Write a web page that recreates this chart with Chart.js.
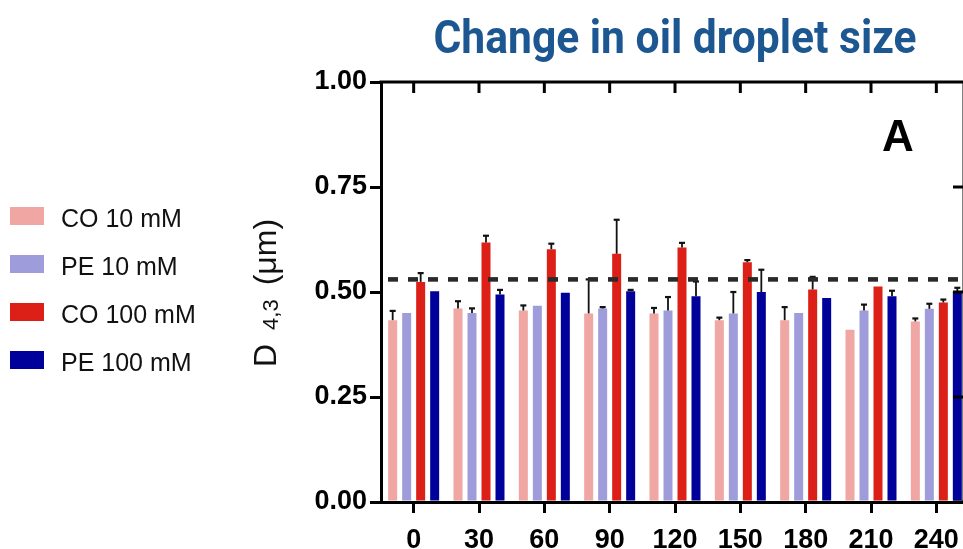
<!DOCTYPE html>
<html>
<head>
<meta charset="utf-8">
<script src="https://cdn.jsdelivr.net/npm/chart.js@4.4.1/dist/chart.umd.min.js"></script>
<style>
  html, body { margin: 0; padding: 0; background: #fff; width: 963px; height: 549px; overflow: hidden; }
  #wrap { position: relative; width: 1000px; height: 549px; }
</style>
</head>
<body>
<div id="wrap"><canvas id="chart" width="1000" height="549"></canvas></div>
<script>
// Sampling times (min)
const times = ['0', '30', '60', '90', '120', '150', '180', '210', '240'];
const yTickLabels = ['0.00', '0.25', '0.50', '0.75', '1.00'];

// Mean D4,3 (µm)
const co10 = [0.433, 0.461, 0.456, 0.449, 0.449, 0.433, 0.433, 0.410, 0.430];
const pe10 = [0.450, 0.450, 0.467, 0.461, 0.456, 0.449, 0.450, 0.456, 0.460];
const co100 = [0.524, 0.618, 0.602, 0.591, 0.606, 0.571, 0.506, 0.513, 0.475];
const pe100 = [0.502, 0.494, 0.498, 0.502, 0.490, 0.500, 0.486, 0.490, 0.502];

// Upper error (SD)
const co10Err = [0.022, 0.017, 0.012, 0.081, 0.013, 0.006, 0.031, 0.000, 0.007];
const pe10Err = [0.000, 0.011, 0.000, 0.003, 0.032, 0.051, 0.000, 0.014, 0.012];
const co100Err = [0.021, 0.016, 0.013, 0.081, 0.011, 0.005, 0.030, 0.000, 0.007];
const pe100Err = [0.000, 0.011, 0.000, 0.003, 0.035, 0.053, 0.000, 0.013, 0.008];

// Initial droplet size reference
const initialSize = 0.53;

const seriesNames = ['CO 10 mM', 'PE 10 mM', 'CO 100 mM', 'PE 100 mM'];
const seriesColors = ['#f0a6a2', '#9e9cdb', '#dc1f17', '#00009b'];
const seriesValues = [co10, pe10, co100, pe100];
const seriesErrors = [co10Err, pe10Err, co100Err, pe100Err];

const AXIS_FONT = 'Liberation Sans, Arial, sans-serif';

const decor = {
  id: 'decor',
  afterDatasetsDraw(chart) {
    const ctx = chart.ctx;
    const y = chart.scales.y;
    const area = chart.chartArea;
    // error bars (upper half with cap)
    ctx.save();
    ctx.strokeStyle = '#111';
    chart.data.datasets.forEach((ds, i) => {
      const meta = chart.getDatasetMeta(i);
      meta.data.forEach((bar, j) => {
        const e = ds.errors[j];
        if (!e) return;
        const top = y.getPixelForValue(ds.data[j] + e);
        ctx.lineWidth = 1.8;
        ctx.beginPath();
        ctx.moveTo(bar.x, bar.y);
        ctx.lineTo(bar.x, top);
        ctx.stroke();
        ctx.lineWidth = 2.2;
        ctx.beginPath();
        ctx.moveTo(bar.x - 3, top);
        ctx.lineTo(bar.x + 3, top);
        ctx.stroke();
      });
    });
    // dashed reference line
    const ry = y.getPixelForValue(initialSize);
    ctx.strokeStyle = '#2a2a2a';
    ctx.lineWidth = 4.6;
    ctx.setLineDash([10, 10]);
    ctx.beginPath();
    ctx.moveTo(area.left + 7, ry);
    ctx.lineTo(chart.width, ry);
    ctx.stroke();
    ctx.restore();
  },
  afterDraw(chart) {
    const ctx = chart.ctx;
    const area = chart.chartArea;
    const xs = chart.scales.x;
    const ys = chart.scales.y;
    const frameRight = 964;
    ctx.save();
    // top and right frame with inward ticks
    ctx.strokeStyle = '#000';
    ctx.lineWidth = 3;
    ctx.beginPath();
    ctx.moveTo(area.left - 1.5, area.top);
    ctx.lineTo(chart.width, area.top);
    ctx.moveTo(frameRight, area.top);
    ctx.lineTo(frameRight, area.bottom);
    xs.ticks.forEach((t, i) => {
      const px = xs.getPixelForTick(i);
      ctx.moveTo(px, area.top);
      ctx.lineTo(px, area.top + 11);
    });
    ys.ticks.forEach((t, i) => {
      const py = ys.getPixelForTick(i);
      ctx.moveTo(frameRight, py);
      ctx.lineTo(frameRight - 11, py);
    });
    ctx.stroke();

    // chart title
    const title = 'Change in oil droplet size';
    ctx.font = 'bold 46px Roboto, sans-serif';
    ctx.fillStyle = '#1d5791';
    ctx.textBaseline = 'alphabetic';
    ctx.textAlign = 'center';
    const tw = ctx.measureText(title).width;
    const sx = 483 / tw;
    ctx.save();
    ctx.translate((area.left + area.right) / 2, 53);
    ctx.scale(sx, 1);
    ctx.fillText(title, 0, 0);
    ctx.restore();

    // panel letter
    ctx.font = 'bold 44px ' + AXIS_FONT;
    ctx.fillStyle = '#000';
    ctx.textAlign = 'center';
    ctx.fillText('A', 898, 151);

    // legend
    ctx.textAlign = 'left';
    ctx.font = '25px ' + AXIS_FONT;
    chart.data.datasets.forEach((ds, i) => {
      const top = 207 + i * 48;
      ctx.fillStyle = ds.backgroundColor;
      ctx.fillRect(10, top, 34, 18);
      ctx.fillStyle = '#111';
      ctx.fillText(ds.label, 61, top + 20);
    });

    // y axis title: D with subscript 4,3 and unit
    ctx.save();
    ctx.translate(276, 367);
    ctx.rotate(-Math.PI / 2);
    ctx.fillStyle = '#111';
    let cx = 0;
    ctx.font = '32px ' + AXIS_FONT;
    ctx.fillText('D', cx, 0);
    cx += ctx.measureText('D').width + 14;
    ctx.font = '22px ' + AXIS_FONT;
    ctx.fillText('4,3', cx, 2);
    cx += ctx.measureText('4,3').width + 14;
    ctx.font = '32px ' + AXIS_FONT;
    ctx.fillText('(\u03bcm)', cx, 0);
    ctx.restore();

    ctx.restore();
  }
};

new Chart(document.getElementById('chart'), {
  type: 'bar',
  data: {
    labels: times,
    datasets: seriesNames.map((name, i) => ({
      label: name,
      data: seriesValues[i],
      errors: seriesErrors[i],
      backgroundColor: seriesColors[i],
      borderWidth: 0,
      barPercentage: 0.643,
      categoryPercentage: 0.857
    }))
  },
  options: {
    responsive: false,
    animation: false,
    layout: { padding: { left: 0, right: 31, top: 82, bottom: 0 } },
    plugins: {
      legend: { display: false },
      tooltip: { enabled: false },
      title: { display: false }
    },
    scales: {
      x: {
        offset: true,
        grid: { display: true, offset: false, drawOnChartArea: false, drawTicks: true, tickLength: 11, lineWidth: 3, color: '#000' },
        border: { display: true, width: 3, color: '#000' },
        ticks: { color: '#000', font: { family: AXIS_FONT, size: 27, weight: 'bold' }, padding: 11, maxRotation: 0, autoSkip: false },
        afterFit(scale) { scale.height = 47; }
      },
      y: {
        min: 0,
        max: 1,
        grid: { display: true, drawOnChartArea: false, drawTicks: true, tickLength: 11, lineWidth: 3, color: '#000' },
        border: { display: true, width: 3, color: '#000' },
        ticks: {
          stepSize: 0.25,
          color: '#000',
          padding: 3,
          font: { family: AXIS_FONT, size: 27, weight: 'bold' },
          callback: (v, i) => yTickLabels[i]
        },
        afterFit(scale) { scale.width = 381; }
      }
    }
  },
  plugins: [decor]
});
</script>
</body>
</html>
